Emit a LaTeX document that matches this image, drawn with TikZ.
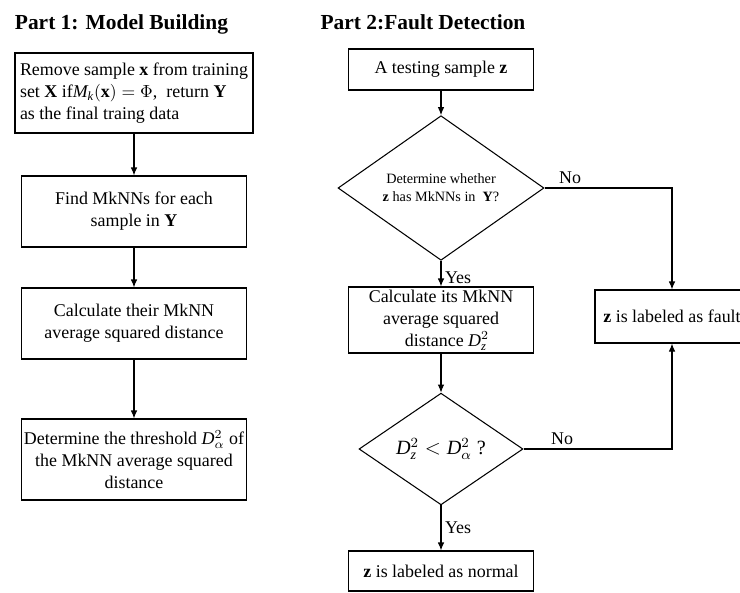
\documentclass[tikz,border=0pt]{standalone}
\usepackage{fontspec}
\setmainfont{Liberation Serif}
\usetikzlibrary{shapes.geometric, arrows.meta, positioning}

\begin{document}
\begin{tikzpicture}[x=0.02cm, y=-0.02cm, line width=0.6pt,
	box/.style={draw, inner sep=0pt, align=center, font=\fontsize{10.2}{12.5}\selectfont},
	dia/.style={draw, diamond, inner sep=0pt, align=center},
	title/.style={font=\fontsize{12.2}{14}\selectfont\bfseries},
	lbl/.style={font=\fontsize{10.2}{12.5}\selectfont, inner sep=2pt},
	>={Latex[length=0.16cm, width=0.13cm]}]
	\useasboundingbox (0,0) rectangle (740,592);
	
	\draw (121.5,24) node[title] (t1) {Part 1: Model Building}
	(423,22) node[title] (t2) {Part 2:Fault Detection}
	(134,93) node[box, minimum width=4.76cm, minimum height=1.6cm, align=left] (b1) {Remove sample \textbf{x} from training\\set \textbf{X} if$\mathit{M}_{\mathit{k}}(\mathbf{x})=\Phi$,\ \ return \textbf{Y}\\as the final traing data}
	(134,211.5) node[box, minimum width=4.5cm, minimum height=1.42cm] (b2) {Find MkNNs for each\\sample in \textbf{Y}}
	(134,323.5) node[box, minimum width=4.5cm, minimum height=1.42cm] (b3) {Calculate their MkNN\\average squared distance}
	(134,459.5) node[box, minimum width=4.5cm, minimum height=1.62cm] (b4) {Determine the threshold $\mathit{D}^2_{\alpha}$ of\\the MkNN average squared\\distance};
	
	\draw (441,69.5) node[box, minimum width=3.7cm, minimum height=0.82cm] (a) {A testing sample \textbf{z}}
	(441,188) node[dia, minimum width=4.12cm, minimum height=2.5cm, font=\fontsize{8.1}{10.2}\selectfont] (d1) {Determine whether\\\textbf{z} has MkNNs in\ \ \textbf{Y}?}
	(441,320) node[box, minimum width=3.7cm, minimum height=1.32cm] (c) {Calculate its MkNN\\average squared\\\hspace*{0.24cm}distance $\mathit{D}^2_{\mathit{z}}$}
	(441,449) node[dia, minimum width=3.28cm, minimum height=1.96cm, font=\fontsize{11.5}{13}\selectfont] (d2) {$\mathit{D}^2_{\mathit{z}} < \mathit{D}^2_{\alpha}$ ?}
	(441,571) node[box, minimum width=3.7cm, minimum height=0.8cm] (n) {\textbf{z} is labeled as normal}
	(672,316.5) node[box, minimum width=3.08cm, minimum height=1.06cm] (f) {\textbf{z} is labeled as fault};
	
	\draw[->] (b1) -- (b2);
	\draw[->] (b2) -- (b3);
	\draw[->] (b3) -- (b4);
	\draw[->] (a) -- (d1);
	\draw[->] (d1) -- (c) node[pos=0.65, right, lbl] {Yes};
	\draw[->] (c) -- (d2);
	\draw[->] (d2) -- (n) node[midway, right, lbl] {Yes};
	\draw[->] (d1.east) -- (d1.east -| f.north) node[pos=0.2, above, lbl] {No} -- (f.north);
	\draw[->] (d2.east) -- (d2.east -| f.south) node[pos=0.26, above, lbl] {No} -- (f.south);
\end{tikzpicture}
\end{document}
